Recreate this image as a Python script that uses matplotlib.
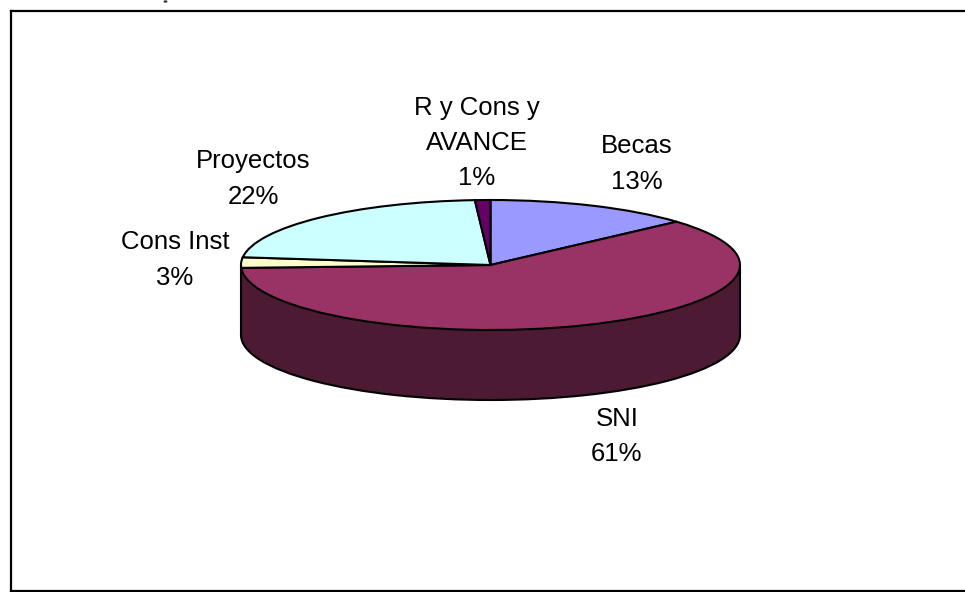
import matplotlib
matplotlib.use("Agg")
import matplotlib.pyplot as plt
from matplotlib.lines import Line2D
from matplotlib.patches import Rectangle

plt.rcParams["font.family"] = ["Liberation Sans", "DejaVu Sans"]

labels = ["Becas", "SNI", "Cons Inst", "Proyectos", "R y Cons y\nAVANCE"]
values = [13.4, 60.9, 2.6, 22.1, 1.0]
colors = ["#9999FF", "#993366", "#FFFFCC", "#CCFFFF", "#660066"]
side_color = "#4C1A33"

W, H = 965, 592
cx, cy = 490.5, 265   # pie centre in pixels
rx, ry = 249.5, 65    # ellipse radii in pixels
depth = 70 / ry       # height of the side, in y units

# centre of each label block, in pixels
label_pos = [(637, 164), (617, 436.5), (175, 260), (253, 179), (477, 143)]

fig = plt.figure(figsize=(W / 100, H / 100), dpi=100)
ax = fig.add_axes([0, 0, 1, 1])

edge = {"edgecolor": "black", "linewidth": 1.5}

# side of the pie: lower rim, then a band up to the top face
ax.pie([sum(values)], center=(0, -depth), radius=1, colors=[side_color],
       startangle=90, wedgeprops=edge)
ax.add_patch(Rectangle((-1, -depth), 2, depth, facecolor=side_color, edgecolor="none"))
ax.plot([-1, -1], [-depth, 0], color="black", lw=1.5)
ax.plot([1, 1], [-depth, 0], color="black", lw=1.5)

# top face
ax.pie(values, center=(0, 0), radius=1, colors=colors, startangle=90,
       counterclock=False, wedgeprops=edge)

ax.set_aspect("auto")
ax.set_xlim((0 - cx) / rx, (W - cx) / rx)
ax.set_ylim((cy - H) / ry, cy / ry)
ax.axis("off")

for name, val, (px, py) in zip(labels, values, label_pos):
    fig.text(px / W, 1 - py / H, f"{name}\n{val:.0f}%", ha="center", va="center",
             fontsize=18.5, linespacing=1.58, color="black")

# outer frame, runs off the right side of the image
frame = dict(color="black", lw=1.6, transform=fig.transFigure, solid_capstyle="projecting")
fig.add_artist(Line2D([10.5 / W, 10.5 / W], [1 - 11 / H, 1 - 591 / H], **frame))
fig.add_artist(Line2D([10.5 / W, 1], [1 - 11 / H, 1 - 11 / H], **frame))
fig.add_artist(Line2D([10.5 / W, 1], [1 - 591 / H, 1 - 591 / H], **frame))

# small dark speck at the top edge, left over from a cropped title
fig.add_artist(Line2D([165 / W, 165 / W], [1, 1 - 2 / H], color="#222222", lw=2.5,
                      transform=fig.transFigure, solid_capstyle="butt"))

fig.savefig("out.png", dpi=100)
